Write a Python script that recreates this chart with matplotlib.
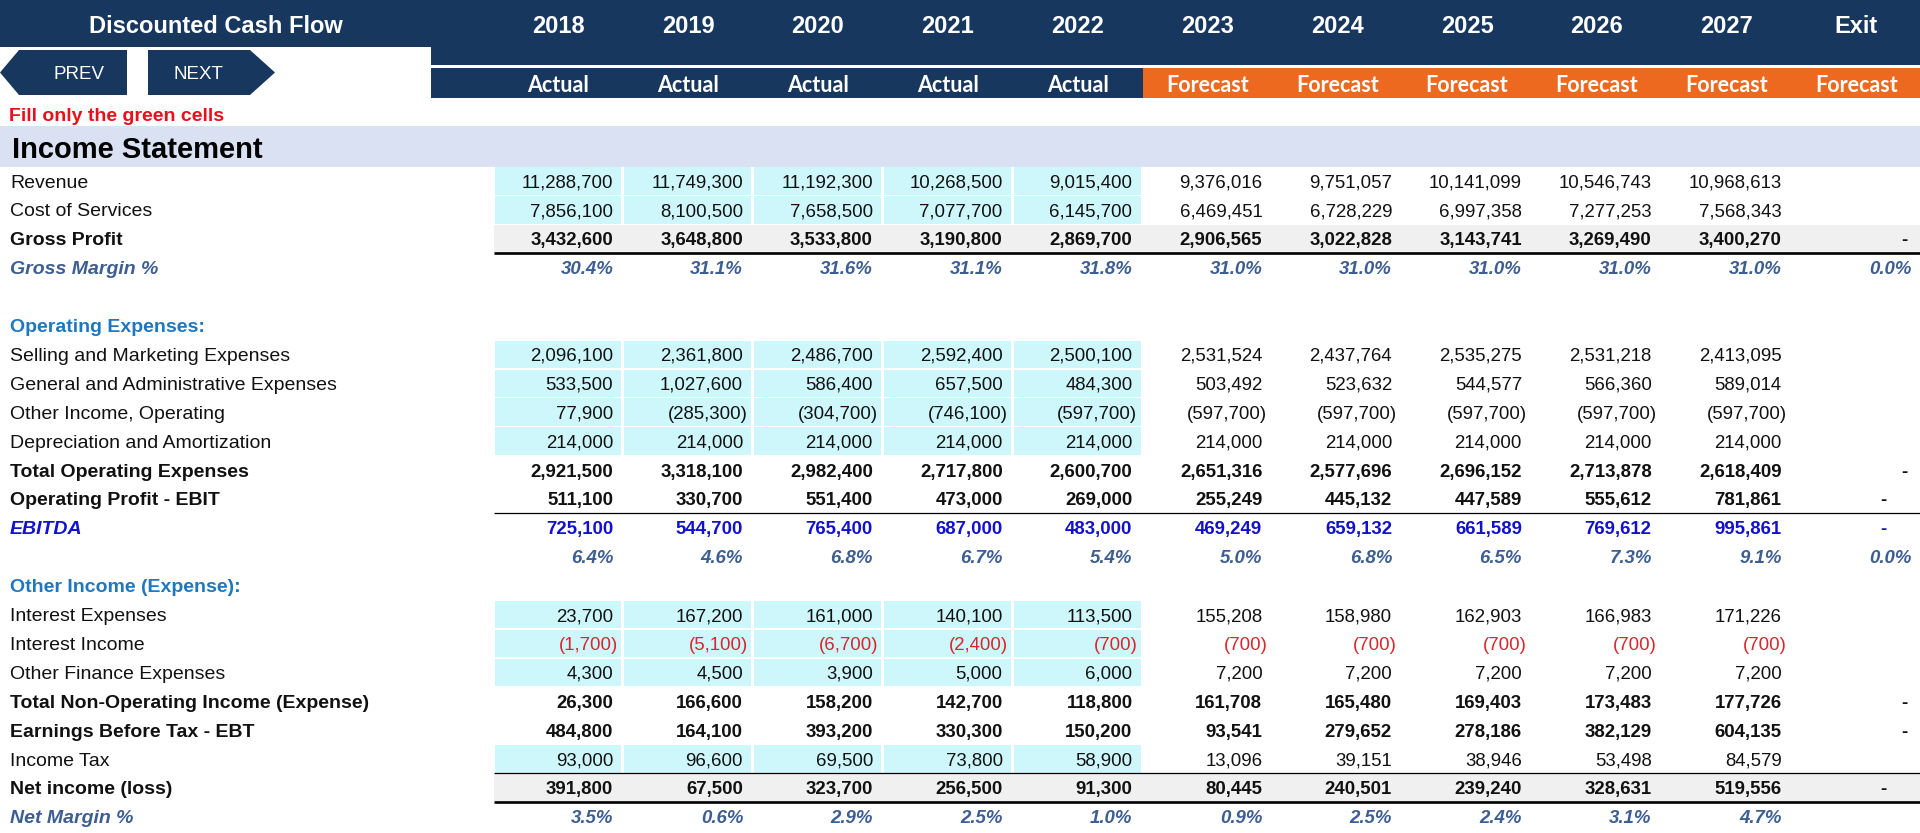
import matplotlib
matplotlib.use("Agg")
import matplotlib.pyplot as plt
from matplotlib import font_manager as fm
from matplotlib.patches import Rectangle, Polygon

# -----------------------------------
# Data
# -----------------------------------

years = ["2018", "2019", "2020", "2021", "2022",
         "2023", "2024", "2025", "2026", "2027", "Exit"]
period_type = ["Actual"] * 5 + ["Forecast"] * 6

revenue = [11288700, 11749300, 11192300, 10268500, 9015400,
           9376016, 9751057, 10141099, 10546743, 10968613, None]
cost_of_services = [7856100, 8100500, 7658500, 7077700, 6145700,
                    6469451, 6728229, 6997358, 7277253, 7568343, None]
gross_profit = [3432600, 3648800, 3533800, 3190800, 2869700,
                2906565, 3022828, 3143741, 3269490, 3400270, 0]
gross_margin = [30.4, 31.1, 31.6, 31.1, 31.8,
                31.0, 31.0, 31.0, 31.0, 31.0, 0.0]

selling_marketing = [2096100, 2361800, 2486700, 2592400, 2500100,
                     2531524, 2437764, 2535275, 2531218, 2413095, None]
general_admin = [533500, 1027600, 586400, 657500, 484300,
                 503492, 523632, 544577, 566360, 589014, None]
other_operating = [77900, -285300, -304700, -746100, -597700,
                   -597700, -597700, -597700, -597700, -597700, None]
depreciation = [214000, 214000, 214000, 214000, 214000,
                214000, 214000, 214000, 214000, 214000, None]
total_opex = [2921500, 3318100, 2982400, 2717800, 2600700,
              2651316, 2577696, 2696152, 2713878, 2618409, 0]
ebit = [511100, 330700, 551400, 473000, 269000,
        255249, 445132, 447589, 555612, 781861, 0]
ebitda = [725100, 544700, 765400, 687000, 483000,
          469249, 659132, 661589, 769612, 995861, 0]
ebitda_margin = [6.4, 4.6, 6.8, 6.7, 5.4,
                 5.0, 6.8, 6.5, 7.3, 9.1, 0.0]

interest_expenses = [23700, 167200, 161000, 140100, 113500,
                     155208, 158980, 162903, 166983, 171226, None]
interest_income = [-1700, -5100, -6700, -2400, -700,
                   -700, -700, -700, -700, -700, None]
other_finance = [4300, 4500, 3900, 5000, 6000,
                 7200, 7200, 7200, 7200, 7200, None]
total_non_operating = [26300, 166600, 158200, 142700, 118800,
                       161708, 165480, 169403, 173483, 177726, 0]
ebt = [484800, 164100, 393200, 330300, 150200,
       93541, 279652, 278186, 382129, 604135, 0]
income_tax = [93000, 96600, 69500, 73800, 58900,
              13096, 39151, 38946, 53498, 84579, None]
net_income = [391800, 67500, 323700, 256500, 91300,
              80445, 240501, 239240, 328631, 519556, 0]
net_margin = [3.5, 0.6, 2.9, 2.5, 1.0,
              0.9, 2.5, 2.4, 3.1, 4.7, None]

# (label, values, style)
rows = [
    ("Revenue", revenue, "input"),
    ("Cost of Services", cost_of_services, "input"),
    ("Gross Profit", gross_profit, "total"),
    ("Gross Margin %", gross_margin, "pct"),
    ("", None, "blank"),
    ("Operating Expenses:", None, "section"),
    ("Selling and Marketing Expenses", selling_marketing, "input"),
    ("General and Administrative Expenses", general_admin, "input"),
    ("Other Income, Operating", other_operating, "input"),
    ("Depreciation and Amortization", depreciation, "input"),
    ("Total Operating Expenses", total_opex, "bold"),
    ("Operating Profit - EBIT", ebit, "bold2"),
    ("EBITDA", ebitda, "ebitda"),
    ("", ebitda_margin, "pct"),
    ("Other Income (Expense):", None, "section"),
    ("Interest Expenses", interest_expenses, "input"),
    ("Interest Income", interest_income, "input_red"),
    ("Other Finance Expenses", other_finance, "input"),
    ("Total Non-Operating Income (Expense)", total_non_operating, "bold"),
    ("Earnings Before Tax - EBT", ebt, "bold"),
    ("Income Tax", income_tax, "input"),
    ("Net income (loss)", net_income, "total2"),
    ("Net Margin %", net_margin, "pct"),
]

# -----------------------------------
# Style
# -----------------------------------

NAVY = "#17375E"
ORANGE = "#EC691F"
BAND = "#D9E1F2"
CYAN = "#CEF7FB"
GRAY = "#F0F0F0"
PCT = "#3D5E92"
SECTION = "#1F78BF"
EBITDA_BLUE = "#1212CC"
RED = "#D8262C"


def has_font(name):
    try:
        fm.findfont(fm.FontProperties(family=name), fallback_to_default=False)
        return True
    except ValueError:
        return False


if has_font("Liberation Sans Narrow"):
    NARROW, NS = "Liberation Sans Narrow", 1.0
else:
    NARROW, NS = "Liberation Sans", 0.84

WIDE = "Liberation Sans" if has_font("Liberation Sans") else "DejaVu Sans"
LABEL_FONT = "Lato" if has_font("Lato") else WIDE

W, H = 1920, 833
fig = plt.figure(figsize=(W / 100, H / 100), dpi=100)
ax = fig.add_axes([0, 0, 1, 1])
ax.set_xlim(0, W)
ax.set_ylim(H, 0)
ax.axis("off")

col_left0 = 493.5
col_w = 129.8
row_y0 = 181
row_h = 28.9
DY = 2.0  # optical offset of text centre


def col_left(j):
    return col_left0 + col_w * j


def col_right(j):
    return col_left(j) + col_w


def row_y(k):
    return row_y0 + row_h * k


# -----------------------------------
# Header
# -----------------------------------

ax.add_patch(Rectangle((0, 0), 431, 47, color=NAVY, lw=0))
ax.add_patch(Rectangle((431, 0), W - 431, 65, color=NAVY, lw=0))
ax.text(216, 26.5, "Discounted Cash Flow", color="white", fontsize=17,
        fontweight="bold", family=WIDE, ha="center", va="center")

ax.add_patch(Rectangle((431, 68), col_left(0) - 431, 30, color=NAVY, lw=0))
for j, (yr, pt) in enumerate(zip(years, period_type)):
    cx = col_left(j) + col_w / 2
    ax.text(cx, 26.5, yr, color="white", fontsize=17, fontweight="bold",
            family=WIDE, ha="center", va="center")
    fill = NAVY if pt == "Actual" else ORANGE
    ax.add_patch(Rectangle((col_left(j), 68), col_w + 0.5, 30, color=fill, lw=0))
    ax.text(cx, 85.5, pt, color="white", fontsize=15.5, fontweight="bold",
            family=LABEL_FONT, ha="center", va="center")

# PREV / NEXT buttons
ax.add_patch(Polygon([(19, 50), (127, 50), (127, 95), (19, 95), (0, 72.5)],
                     closed=True, color=NAVY, lw=0))
ax.add_patch(Polygon([(148, 50), (250, 50), (275, 72.5), (250, 95), (148, 95)],
                     closed=True, color=NAVY, lw=0))
ax.text(79, 74, "PREV", color="white", fontsize=13.5, family=WIDE,
        ha="center", va="center")
ax.text(198, 74, "NEXT", color="white", fontsize=13.5, family=WIDE,
        ha="center", va="center")

ax.text(9, 116.5, "Fill only the green cells", color="#E8101A", fontsize=14,
        fontweight="bold", family=WIDE, ha="left", va="center")

ax.add_patch(Rectangle((0, 126), W, 41, color=BAND, lw=0))
ax.text(12, 150, "Income Statement", color="black", fontsize=25 * NS,
        fontweight="bold", family=NARROW, ha="left", va="center")

# -----------------------------------
# Table body
# -----------------------------------


def fmt(v, style):
    if style == "pct":
        return f"{v:.1f}%"
    if v == 0:
        return "-"
    if v < 0:
        return f"({abs(v):,.0f})"
    return f"{v:,.0f}"


FS = 16 * NS
LFS = 14.0 if NS < 1 else 16.5

for k, (label, values, style) in enumerate(rows):
    y = row_y(k)

    # backgrounds
    if style in ("total", "total2"):
        ax.add_patch(Rectangle((col_left(0), y - 14), W - col_left(0), 28,
                               color=GRAY, lw=0))
    if style.startswith("input"):
        for j in range(5):
            ax.add_patch(Rectangle((col_left(j) + 1, y - 13.8), col_w - 3, 27.6,
                                   color=CYAN, lw=0))

    # label
    lab_kw = dict(family=NARROW, fontsize=LFS, ha="left", va="center", color="#111111")
    if style in ("total", "total2", "bold", "bold2"):
        lab_kw["fontweight"] = "bold"
    elif style == "pct":
        lab_kw.update(fontweight="bold", style="italic", color=PCT)
    elif style == "section":
        lab_kw.update(fontweight="bold", color=SECTION)
    elif style == "ebitda":
        lab_kw.update(fontweight="bold", style="italic", color=EBITDA_BLUE)
    if label:
        ax.text(10, y + DY, label, **lab_kw)

    if values is None:
        continue

    # values
    for j, v in enumerate(values):
        if v is None:
            continue
        txt = fmt(v, style)
        kw = dict(family=NARROW, fontsize=FS, ha="right", va="center", color="#111111")
        if style in ("total", "total2", "bold", "bold2"):
            kw["fontweight"] = "bold"
        elif style == "pct":
            kw.update(fontweight="bold", style="italic", color=PCT)
        elif style == "ebitda":
            kw.update(fontweight="bold", color=EBITDA_BLUE)
        elif style == "input_red":
            kw["color"] = RED

        x = col_right(j) - 10
        if txt.startswith("("):
            x = col_right(j) - 5
        if txt == "-":
            x = col_right(j) - (35 if style in ("bold2", "ebitda", "total2") else 14)
        ax.text(x, y + DY, txt, **kw)

# rules
ax.hlines(row_y(2) + 14.5, col_left(0), W, color="black", lw=1.9)
ax.hlines((row_y(11) + row_y(12)) / 2, col_left(0), W, color="black", lw=0.9)
ax.hlines((row_y(20) + row_y(21)) / 2, col_left(0), W, color="black", lw=0.9)
ax.hlines(row_y(21) + 14.5, col_left(0), W, color="black", lw=1.9)

fig.savefig("out.png", dpi=100, facecolor="white")
